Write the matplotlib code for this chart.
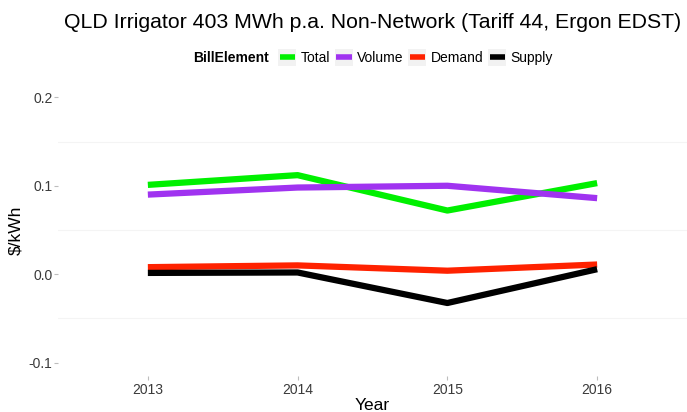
import matplotlib
matplotlib.use("Agg")
import matplotlib.pyplot as plt
from matplotlib.lines import Line2D
from matplotlib.patches import Rectangle
from matplotlib.legend_handler import HandlerLine2D

plt.rcParams['font.family'] = ['Liberation Sans', 'DejaVu Sans']

years = [2013, 2014, 2015, 2016]
total = [0.101, 0.112, 0.072, 0.103]
volume = [0.090, 0.098, 0.100, 0.086]
demand = [0.008, 0.010, 0.004, 0.011]
supply = [0.0015, 0.002, -0.0325, 0.0057]

series_names = ["Total", "Volume", "Demand", "Supply"]
series_values = [total, volume, demand, supply]
series_colors = ["#00f000", "#a033f0", "#ff2200", "#000000"]

yticks = [-0.1, 0.0, 0.1, 0.2]
yticklabels = ["-0.1", "0.0", "0.1", "0.2"]
minor_grid = [-0.05, 0.05, 0.15]

W, H = 687, 412
fig = plt.figure(figsize=(W / 100, H / 100), dpi=100)
left_px, right_px, top_px, bottom_px = 58, 687, 84, 376
ax = fig.add_axes([left_px / W, (H - bottom_px) / H,
                   (right_px - left_px) / W, (bottom_px - top_px) / H])

lines = []
for name, vals, col in zip(series_names, series_values, series_colors):
    ln, = ax.plot(years, vals, color=col, lw=4.5, solid_capstyle='butt',
                  solid_joinstyle='round', label=name)
    lines.append(ln)

ax.set_xlim(2012.4, 2016.6)
ax.set_ylim(-0.115, 0.215)
ax.set_xticks(years)
ax.set_xticklabels([str(y) for y in years])
ax.set_yticks(yticks)
ax.set_yticklabels(yticklabels)
for g in minor_grid:
    ax.axhline(g, color='#f4f4f4', lw=0.8, zorder=0)

for s in ax.spines.values():
    s.set_visible(False)
ax.tick_params(axis='both', length=3, width=0.8, color='#bdbdbd',
               labelsize=10, labelcolor='#3a3a3a')
ax.tick_params(axis='x', pad=2)
ax.tick_params(axis='y', pad=1)

ax.set_ylabel("\\$/kWh", fontsize=12.5, labelpad=4)
ax.set_xlabel("Year", fontsize=12.5, labelpad=1)

fig.text((left_px + right_px) / 2 / W, 1 - 22 / H,
         "QLD Irrigator 403 MWh p.a. Non-Network (Tariff 44, Ergon EDST)",
         ha='center', va='center', fontsize=15.3)


class KeyHandler(HandlerLine2D):
    def create_artists(self, legend, orig_handle, xdescent, ydescent,
                       width, height, fontsize, trans):
        pad = 2
        rect = Rectangle((-xdescent, -ydescent - pad), width, height + 2 * pad,
                         facecolor='#f2f2f2', edgecolor='none', transform=trans)
        ln = Line2D([-xdescent + 1, -xdescent + width - 1],
                    [height / 2 - ydescent] * 2,
                    color=orig_handle.get_color(), lw=4,
                    solid_capstyle='butt', transform=trans)
        return [rect, ln]


leg_y = 1 - 58 / H
leg = fig.legend(handles=lines, labels=series_names, ncol=4,
                 loc='center', bbox_to_anchor=(415.5 / W, leg_y),
                 frameon=False, fontsize=10, handlelength=1.3,
                 handleheight=0.9, handletextpad=0.3, columnspacing=0.35,
                 borderpad=0, borderaxespad=0,
                 handler_map={Line2D: KeyHandler()})
fig.text(193 / W, leg_y, "BillElement", ha='left', va='center',
         fontsize=10, fontweight='bold')

fig.savefig("out.png", dpi=100, facecolor='white')
